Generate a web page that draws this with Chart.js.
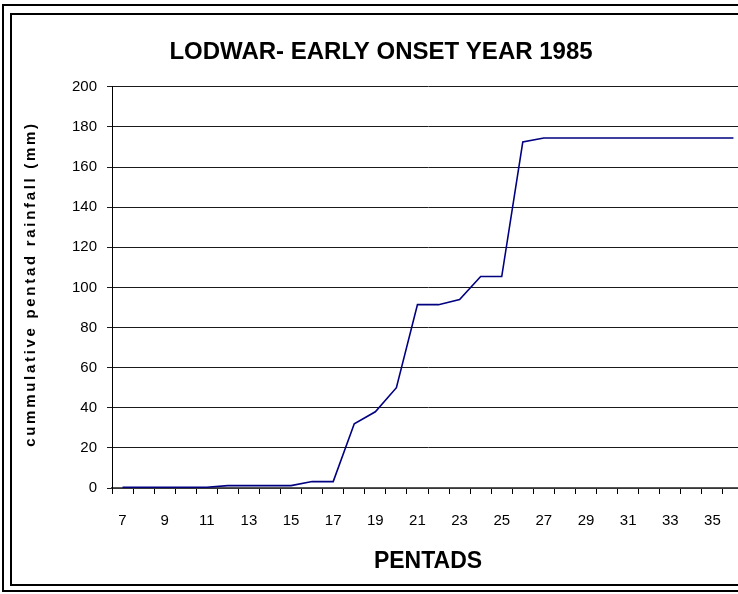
<!DOCTYPE html>
<html>
<head>
<meta charset="utf-8">
<script src="https://cdn.jsdelivr.net/npm/chart.js@4"></script>
<style>
  body { margin: 0; background: #fff; overflow: hidden; width: 738px; height: 594px; position: relative; }
  .frame { position: absolute; border: 2px solid #000; }
  #outer { left: 2px; top: 4px; width: 780px; height: 584px; }
  #inner { left: 10px; top: 13px; width: 780px; height: 569px; }
  #rainChart { position: absolute; left: 0; top: 0; }
</style>
</head>
<body>
<div class="frame" id="outer"></div>
<div class="frame" id="inner"></div>
<canvas id="rainChart" width="752" height="594"></canvas>
<script>
// pentad numbers on the x axis
const pentads = [7, 8, 9, 10, 11, 12, 13, 14, 15, 16, 17, 18, 19, 20, 21, 22,
  23, 24, 25, 26, 27, 28, 29, 30, 31, 32, 33, 34, 35, 36];

// cumulative rainfall (mm)
const cumRain = [0.4, 0.4, 0.4, 0.4, 0.4, 1.2, 1.2, 1.2, 1.2, 3.2, 3.2, 32, 38, 50,
  91.4, 91.4, 94, 105.4, 105.4, 172.5, 174.5, 174.5, 174.5, 174.5, 174.5, 174.5,
  174.5, 174.5, 174.5, 174.5];

const yTicks = { min: 0, max: 200, step: 20 };
const yTitle = "cummulative pentad rainfall (mm)";

const FONT = "'Liberation Sans', Arial, sans-serif";

// y title drawn by hand so it can be letter-spaced like the original
const yTitlePlugin = {
  id: "yTitle",
  afterDraw(chart) {
    const ctx = chart.ctx;
    ctx.save();
    ctx.translate(31, 284);
    ctx.rotate(-Math.PI / 2);
    ctx.font = "bold 15px " + FONT;
    ctx.letterSpacing = "2.7px";
    ctx.fillStyle = "#000";
    ctx.textAlign = "center";
    ctx.textBaseline = "middle";
    ctx.fillText(yTitle, 0, 0);
    ctx.restore();
  },
};

window.addEventListener("load", () => {
  const ctx = document.getElementById("rainChart").getContext("2d");
  new Chart(ctx, {
    type: "line",
    data: {
      labels: pentads.map(String),
      datasets: [
        {
          label: "cumulative rainfall",
          data: cumRain,
          borderColor: "#000080",
          borderWidth: 1.6,
          pointRadius: 0,
          fill: false,
          tension: 0,
        },
      ],
    },
    plugins: [yTitlePlugin],
    options: {
      responsive: false,
      animation: false,
      layout: { padding: { left: 18, right: 8, top: 0, bottom: 0 } },
      plugins: {
        legend: { display: false },
        tooltip: { enabled: false },
        title: {
          display: true,
          text: "LODWAR- EARLY ONSET YEAR 1985",
          color: "#000",
          font: { family: FONT, size: 24, weight: "bold" },
          padding: { top: 38, bottom: 20 },
        },
      },
      scales: {
        x: {
          offset: true,
          afterFit: (s) => { s.height = 106; },
          grid: {
            offset: true,
            drawOnChartArea: false,
            color: "#000",
            tickLength: 6,
          },
          border: { color: "#555", width: 1.5 },
          ticks: {
            autoSkip: false,
            maxRotation: 0,
            padding: 18,
            color: "#000",
            font: { family: FONT, size: 15 },
            callback: (v, i) => (pentads[i] % 2 ? pentads[i] : ""),
          },
          title: {
            display: true,
            text: "PENTADS",
            color: "#000",
            font: { family: FONT, size: 23, weight: "bold" },
            padding: { top: 19, bottom: 19 },
          },
        },
        y: {
          min: yTicks.min,
          max: yTicks.max,
          afterFit: (s) => { s.width = 94; },
          grid: { color: "#1a1a1a", lineWidth: 1, tickLength: 5 },
          border: { color: "#000", width: 1 },
          ticks: {
            stepSize: yTicks.step,
            padding: 10,
            color: "#000",
            font: { family: FONT, size: 15 },
          },
        },
      },
    },
  });
});
</script>
</body>
</html>
